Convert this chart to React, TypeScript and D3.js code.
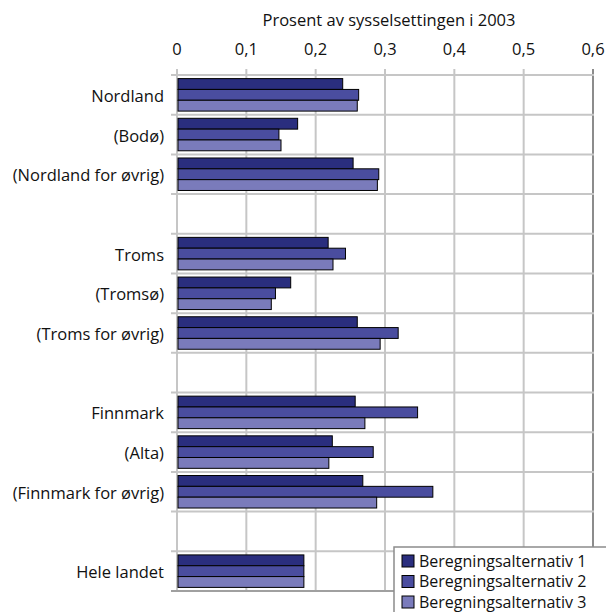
import React from "react";
import * as d3 from "d3";

const categories = [
  "Nordland",
  "(Bodø)",
  "(Nordland for øvrig)",
  "",
  "Troms",
  "(Tromsø)",
  "(Troms for øvrig)",
  "",
  "Finnmark",
  "(Alta)",
  "(Finnmark for øvrig)",
  "",
  "Hele landet",
];

const seriesNames = [
  "Beregningsalternativ 1",
  "Beregningsalternativ 2",
  "Beregningsalternativ 3",
];

const alt1 = [0.239, 0.174, 0.254, null, 0.218, 0.164, 0.26, null, 0.257, 0.224, 0.268, null, 0.183];
const alt2 = [0.262, 0.147, 0.291, null, 0.243, 0.142, 0.319, null, 0.347, 0.283, 0.369, null, 0.183];
const alt3 = [0.26, 0.15, 0.289, null, 0.225, 0.136, 0.293, null, 0.271, 0.219, 0.288, null, 0.183];

const xTicks = [0, 0.1, 0.2, 0.3, 0.4, 0.5, 0.6];
const xTickLabels = ["0", "0,1", "0,2", "0,3", "0,4", "0,5", "0,6"];
const axisTitle = "Prosent av sysselsettingen i 2003";

const colors = ["#2A2E7E", "#4A4D9F", "#7A7BBB"];

export default function App() {
  const W = 606;
  const H = 612;
  const x0 = 177;
  const x1 = 593;
  const yTop = 75;
  const yBot = 591;
  const font = "'Open Sans', 'Noto Sans', sans-serif";
  const fs = 16.5;
  const lfs = 16;
  const lstep = 20.5;

  const x = d3.scaleLinear().domain([0, 0.6]).range([x0, x1]);
  const idx = categories.map((_, i) => String(i));
  const y = d3.scaleBand().domain(idx).range([yTop, yBot]).padding(0);
  const bw = y.bandwidth();
  const pad = 3.6;
  const inner = d3
    .scaleBand()
    .domain(["0", "1", "2"])
    .range([pad, bw - pad])
    .padding(0);
  const series = [alt1, alt2, alt3];

  const grid = "#C6C6C6";

  return (
    <svg
      width={W}
      height={H}
      style={{ position: "absolute", left: 0, top: 0, display: "block" }}
    >
      <rect x={0} y={0} width={W} height={H} fill="#fff" />
      {/* title */}
      <text
        x={389}
        y={26}
        textAnchor="middle"
        fontFamily={font}
        fontSize={fs}
        fill="#111"
      >
        {axisTitle}
      </text>
      {/* tick labels */}
      {xTicks.map((t, i) => (
        <text
          key={"tl" + i}
          x={x(t)}
          y={55}
          textAnchor="middle"
          fontFamily={font}
          fontSize={fs}
          fill="#111"
        >
          {xTickLabels[i]}
        </text>
      ))}
      {/* vertical gridlines */}
      {xTicks.map((t, i) => (
        <line
          key={"vg" + i}
          x1={x(t)}
          x2={x(t)}
          y1={yTop - 6}
          y2={yBot}
          stroke={i === xTicks.length - 1 ? "#8C8C8C" : grid}
          strokeWidth={2}
        />
      ))}
      {/* horizontal gridlines at band edges */}
      {d3.range(categories.length + 1).map((i) => {
        const yy = yTop + i * bw;
        return (
          <line
            key={"hg" + i}
            x1={x0 - 6}
            x2={x1 + 1}
            y1={yy}
            y2={yy}
            stroke={i === categories.length ? "#A0A0A0" : grid}
            strokeWidth={2}
          />
        );
      })}
      {/* bars */}
      {categories.map((c, ci) =>
        series.map((s, si) => {
          const v = s[ci];
          if (v == null) return null;
          const yy = (y(String(ci)) as number) + (inner(String(si)) as number);
          return (
            <rect
              key={"b" + ci + "-" + si}
              x={x(0) + 1}
              y={yy}
              width={x(v) - x(0) - 1}
              height={inner.bandwidth()}
              fill={colors[si]}
              stroke="#000"
              strokeWidth={1}
            />
          );
        })
      )}
      {/* category labels */}
      {categories.map((c, ci) =>
        c ? (
          <text
            key={"cl" + ci}
            x={164}
            y={(y(String(ci)) as number) + bw / 2 + 7}
            textAnchor="end"
            fontFamily={font}
            fontSize={fs}
            fill="#111"
          >
            {c}
          </text>
        ) : null
      )}
      {/* legend */}
      <g>
        <rect
          x={394}
          y={547}
          width={215}
          height={70}
          fill="#fff"
          stroke="#8C8C8C"
          strokeWidth={1.5}
        />
        {seriesNames.map((n, i) => (
          <g key={"lg" + i}>
            <rect
              x={402}
              y={555 + i * lstep}
              width={12}
              height={12}
              fill={colors[i]}
              stroke="#000"
              strokeWidth={1}
            />
            <text
              x={419}
              y={566.5 + i * lstep}
              fontFamily={font}
              fontSize={lfs}
              fill="#111"
            >
              {n}
            </text>
          </g>
        ))}
      </g>
    </svg>
  );
}
